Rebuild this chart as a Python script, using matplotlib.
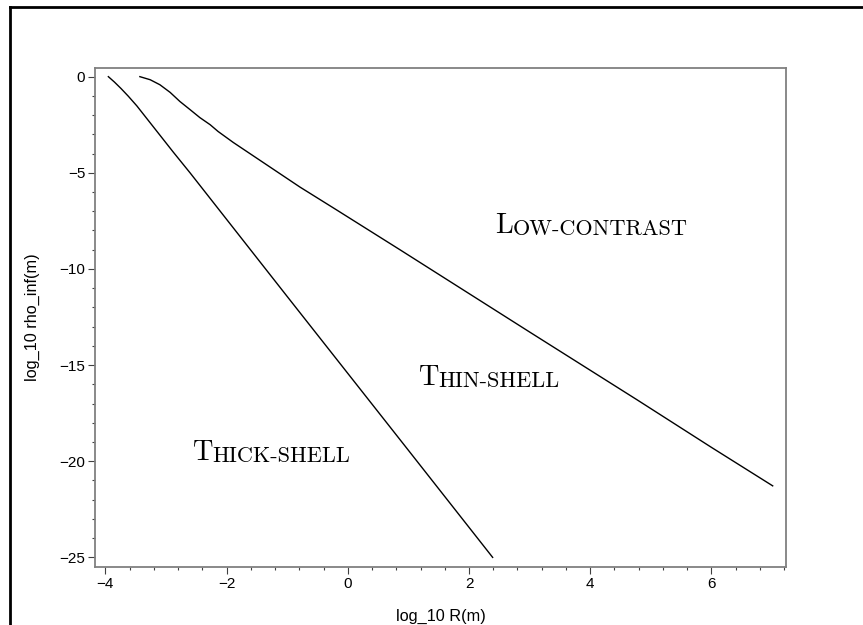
import numpy as np
import matplotlib.pyplot as plt
from matplotlib.lines import Line2D
from matplotlib.ticker import MultipleLocator

# boundary between low-contrast and thin-shell regimes
thin_x = [-3.43, -3.26, -3.10, -2.93, -2.77, -2.60, -2.44, -2.27, -2.14, -1.89, -1.34,
          -0.79, -0.21, 0.86, 2.0, 3.0, 4.77, 6.0, 7.01]
thin_y = [0.0, -0.16, -0.42, -0.82, -1.29, -1.72, -2.13, -2.50, -2.85, -3.42, -4.58,
          -5.74, -6.88, -9.0, -11.28, -13.28, -16.8, -19.28, -21.28]

# boundary between thin-shell and thick-shell regimes
thick_x = [-3.95, -3.85, -3.74, -3.62, -3.48, -3.33, -3.18, -3.02, -2.88, -2.60, -1.0, 0.0, 1.0, 2.39]
thick_y = [0.0, -0.28, -0.62, -1.02, -1.52, -2.12, -2.72, -3.36, -3.92, -5.01, -11.43, -15.43, -19.43, -25.0]

regions = [("L", "ow-contrast", 2.43, -8.12),
           ("T", "hin-shell", 1.16, -16.02),
           ("T", "hick-shell", -2.57, -19.93)]

fig = plt.figure(figsize=(8.63, 6.25), dpi=100)
ax = fig.add_axes([0.1101, 0.0928, 0.8007, 0.7984])

ax.plot(thin_x, thin_y, color='black', lw=1.0)
ax.plot(thick_x, thick_y, color='black', lw=1.0)

ax.set_xlim(-4.17, 7.23)
ax.set_ylim(-25.5, 0.45)
ax.xaxis.set_major_locator(MultipleLocator(2))
ax.xaxis.set_minor_locator(MultipleLocator(0.4))
ax.yaxis.set_major_locator(MultipleLocator(5))
ax.yaxis.set_minor_locator(MultipleLocator(1))

for s in ax.spines.values():
    s.set_color('#808080')
    s.set_linewidth(1.3)
ax.tick_params(which='both', direction='out', color='#404040', width=0.8,
               labelsize=11, labelfontfamily='Liberation Sans', pad=2)
ax.tick_params(which='major', length=5)
ax.tick_params(which='minor', length=2.5)

ax.set_xlabel('log_10 R(m)', fontsize=11.7, family='Liberation Sans', labelpad=13)
ax.set_ylabel('log_10 rho_inf(m)', fontsize=11.7, family='Liberation Sans', labelpad=14)


def smallcaps(x, y, first, rest, size=20.5):
    t = ax.text(x, y, first, fontsize=size, family='cmr10', ha='left', va='baseline')
    ax.annotate(rest.upper(), xy=(1, 0), xycoords=t, fontsize=size * 0.78,
                family='cmr10', ha='left', va='bottom')


for first, rest, x, y in regions:
    smallcaps(x, y, first, rest)

# outer frame (top and left only)
fig.add_artist(Line2D([10 / 863, 1.0], [1 - 7 / 625, 1 - 7 / 625], color='black', lw=2.0))
fig.add_artist(Line2D([10 / 863, 10 / 863], [0.0, 1 - 7 / 625], color='black', lw=2.0))

plt.savefig('out.png', dpi=100)
